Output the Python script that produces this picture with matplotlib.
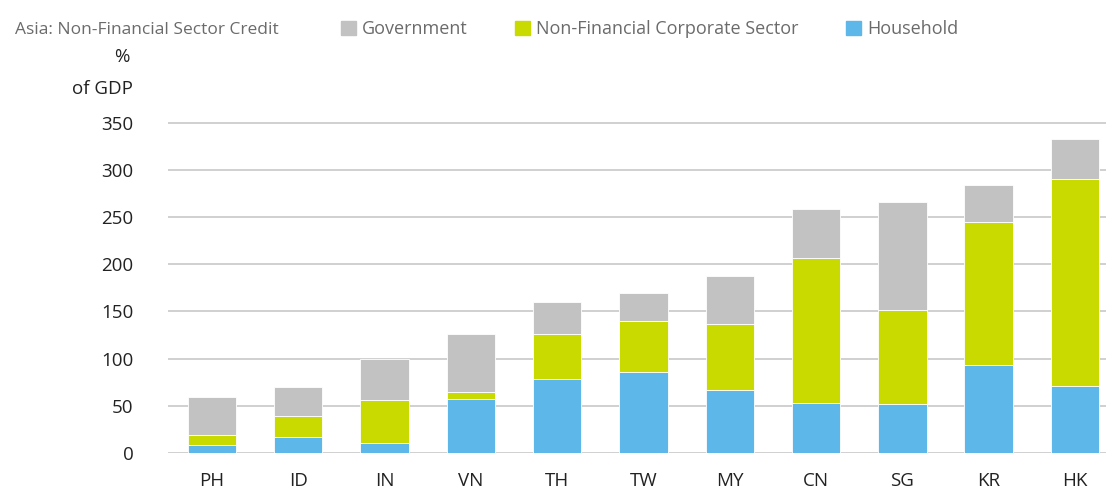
import matplotlib
matplotlib.use("Agg")
import matplotlib.pyplot as plt
from matplotlib.patches import Patch
import numpy as np

plt.rcParams['font.family'] = ['Open Sans', 'DejaVu Sans']

countries = ["PH", "ID", "IN", "VN", "TH", "TW", "MY", "CN", "SG", "KR", "HK"]
household = [9, 17, 11, 57, 78, 86, 67, 53, 52, 93, 71]
corporate = [10, 22.5, 45, 8, 48, 54, 70, 154, 99, 152, 219]
government = [40, 30.5, 44, 61, 34, 30, 51, 52, 115, 39, 43]
yticks = [0, 50, 100, 150, 200, 250, 300, 350]

c_gov = "#C1C2C1"
c_corp = "#C8DA00"
c_hh = "#5DB7E8"

W, H = 1106, 492
fig = plt.figure(figsize=(W / 100, H / 100), dpi=100)
ppu = 0.944
ytop = 355
ax = fig.add_axes([168 / W, (H - 453) / H, (W - 168) / W, ytop * ppu / H])

x = np.arange(len(countries))
hh = np.array(household)
co = np.array(corporate)
gv = np.array(government)
bw = 0.56
ax.bar(x, hh, bw, color=c_hh, edgecolor="white", linewidth=0.6, zorder=3)
ax.bar(x, co, bw, bottom=hh, color=c_corp, edgecolor="white", linewidth=0.6, zorder=3)
ax.bar(x, gv, bw, bottom=hh + co, color=c_gov, edgecolor="white", linewidth=0.6, zorder=3)

ax.set_xlim(-0.51, len(countries) - 1 + 0.36)
ax.set_ylim(0, ytop)
ax.set_yticks(yticks)
ax.set_yticklabels([str(v) for v in yticks], fontsize=13.5, color="#222222")
ax.set_xticks(x)
ax.set_xticklabels(countries, fontsize=13.5, color="#222222")
ax.tick_params(length=0)
ax.tick_params(axis="y", pad=25)
ax.tick_params(axis="x", pad=14)
ax.grid(axis="y", color="#C8C8C8", linewidth=1.2, zorder=0)
ax.set_axisbelow(True)
for s in ax.spines.values():
    s.set_visible(False)

fig.text(15 / W, 1 - 30 / H, "Asia: Non-Financial Sector Credit", fontsize=12.5,
         color="#6B6B6B", ha="left", va="center")
fig.text(122 / W, 1 - 57 / H, "%", fontsize=13.5, color="#222222", ha="center", va="center")
fig.text(133 / W, 1 - 89 / H, "of GDP", fontsize=13.5, color="#222222", ha="right", va="center")

handles = [Patch(color=c_gov, label="Government"),
           Patch(color=c_corp, label="Non-Financial Corporate Sector"),
           Patch(color=c_hh, label="Household")]
leg = fig.legend(handles=handles, loc="center left", bbox_to_anchor=(341 / W, 1 - 29.5 / H),
                 ncol=3, frameon=False, fontsize=13, handlelength=0.82, handleheight=0.82,
                 handletextpad=0.33, columnspacing=2.65, borderaxespad=0, borderpad=0)
for t in leg.get_texts():
    t.set_color("#6B6B6B")

fig.savefig("out.png", dpi=100)
